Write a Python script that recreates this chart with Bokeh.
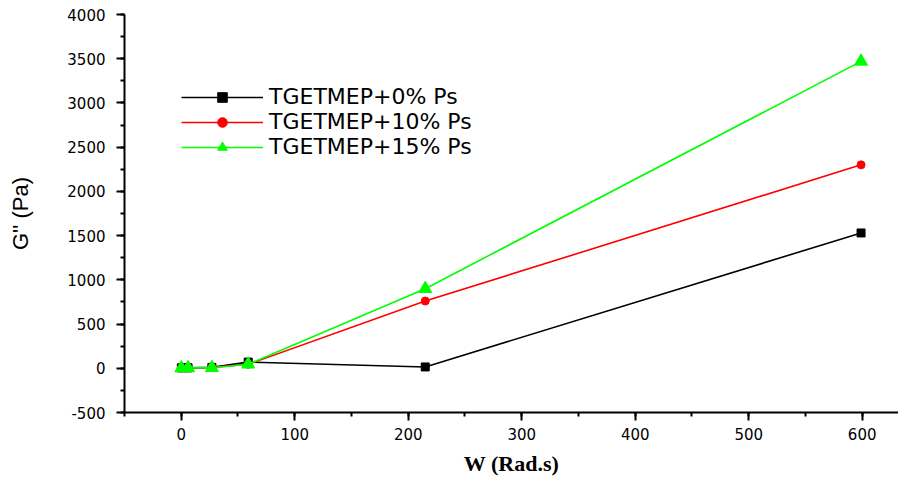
from bokeh.plotting import figure
from bokeh.models import SingleIntervalTicker, Range1d, Legend, LegendItem, PrintfTickFormatter
from bokeh.embed import file_html
from bokeh.resources import INLINE

freq = [0.1, 6, 27, 59, 215, 599]
g_0 = [5, 5, 10, 70, 15, 1530]
g_10 = [3, 5, 8, 45, 760, 2300]
g_15 = [2, 4, 6, 45, 900, 3470]
labels = ["TGETMEP+0% Ps", "TGETMEP+10% Ps", "TGETMEP+15% Ps"]

p = figure(width=898, height=478, output_backend="svg", toolbar_location=None,
           x_range=Range1d(-50, 632), y_range=Range1d(-500, 4000),
           min_border_left=124, min_border_right=0, min_border_top=14, min_border_bottom=58)
p.outline_line_color = None
p.xgrid.visible = False
p.ygrid.visible = False

l0 = p.line(freq, g_0, line_color="black", line_width=1.6)
m0 = p.scatter(freq, g_0, marker="square", size=8, color="black")
l1 = p.line(freq, g_10, line_color="#ff0000", line_width=1.6)
m1 = p.scatter(freq, g_10, marker="circle", size=8, color="#ff0000")
l2 = p.line(freq, g_15, line_color="#00ff00", line_width=1.6)
m2 = p.scatter(freq, g_15, marker="triangle", size=13, color="#00ff00")

for ax, interval in ((p.xaxis[0], 100), (p.yaxis[0], 500)):
    ax.ticker = SingleIntervalTicker(interval=interval, num_minor_ticks=2)
    ax.formatter = PrintfTickFormatter(format="%d")
    ax.axis_line_width = 2
    ax.major_tick_line_width = 2
    ax.minor_tick_line_width = 2
    ax.major_tick_out = 8
    ax.major_tick_in = 0
    ax.minor_tick_out = 4
    ax.minor_tick_in = 0
    ax.major_label_text_font = "DejaVu Sans"
    ax.major_label_text_font_size = "15px"
    ax.major_label_text_color = "black"

p.xaxis.major_label_standoff = 7
p.yaxis.major_label_standoff = 11

p.xaxis.axis_label = "W (Rad.s)"
p.xaxis.axis_label_text_font = "Liberation Serif"
p.xaxis.axis_label_text_font_style = "bold"
p.xaxis.axis_label_text_font_size = "22px"
p.xaxis.axis_label_text_color = "black"
p.xaxis.axis_label_standoff = 8

p.yaxis.axis_label = "G'' (Pa)"
p.yaxis.axis_label_text_font = "Liberation Sans"
p.yaxis.axis_label_text_font_style = "normal"
p.yaxis.axis_label_text_font_size = "22px"
p.yaxis.axis_label_text_color = "black"
p.yaxis.axis_label_standoff = 31

legend = Legend(items=[LegendItem(label=labels[0], renderers=[l0, m0]),
                       LegendItem(label=labels[1], renderers=[l1, m1]),
                       LegendItem(label=labels[2], renderers=[l2, m2])],
                location=(57, 253), glyph_width=82, glyph_height=24,
                label_text_font="DejaVu Sans", label_text_font_size="22px",
                label_text_color="black",
                label_standoff=6, spacing=0, padding=0, margin=0,
                border_line_color=None, background_fill_alpha=0)
p.add_layout(legend)

open("out.html", "w").write(file_html(p, INLINE))
